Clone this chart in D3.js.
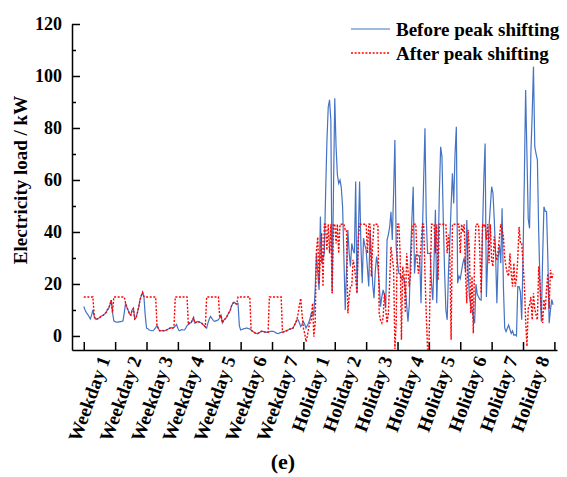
<!DOCTYPE html>
<html lang="en">
<head>
  <meta charset="UTF-8" />
  <title>Electricity load before and after peak shifting</title>
  <script src="https://d3js.org/d3.v7.min.js"></script>
  <style>
    body { margin: 0; background: #fff; }
    svg { display: block; }
    text { font-family: 'Liberation Serif', 'Times New Roman', serif; font-weight: bold; fill: #000; }
  </style>
</head>
<body>
<svg width="567" height="477"></svg>
<script>
  const days = ["Weekday 1", "Weekday 2", "Weekday 3", "Weekday 4", "Weekday 5", "Weekday 6", "Weekday 7",
                "Holiday 1", "Holiday 2", "Holiday 3", "Holiday 4", "Holiday 5", "Holiday 6", "Holiday 7", "Holiday 8"];
  const yTicks = [0, 20, 40, 60, 80, 100, 120];
  const yMinor = [10, 30, 50, 70, 90, 110];
  const hoursPerDay = 24;

  // hourly load, one row per day
  const before = [
    11.3, 10, 9, 8.3, 7.5, 6.5, 8, 10, 7.5, 6.5, 6.5, 6.7, 7, 7.5, 7.8, 8, 8.5, 9, 10, 10.6, 12, 13.8, 9, 5.8,
    5.5, 5.3, 5.3, 5.4, 5.5, 5.6, 5.8, 9, 12.6, 11, 9.8, 8.5, 8, 10, 10.6, 6.5, 7, 8.9, 11, 13.8, 15.5, 16.8, 15.2, 8,
    3, 2.8, 2.3, 2.2, 2, 2, 2.5, 3.2, 4, 3, 2, 2, 2.1, 2, 2, 2.2, 2.5, 2.8, 3, 3.2, 3, 3.3, 3.8, 4.4,
    3, 2, 2.2, 2.5, 2.3, 2.3, 3, 4, 4.4, 5, 5, 6, 7, 5, 5.3, 5.6, 5.4, 5.2, 5, 4.5, 4, 3.5, 3, 5,
    6.5, 7.5, 6.8, 6, 5.6, 5.8, 6, 6.2, 7, 8, 5, 6, 6.5, 7, 8, 9, 9.8, 11.5, 12.5, 13, 12.5, 12.3, 12.5, 4,
    2.3, 2.5, 2.7, 2.8, 3, 3, 2.8, 2.7, 2.3, 1.8, 1.5, 1.2, 1, 0.9, 1.2, 1.5, 1.8, 1.8, 1.6, 1.5, 1.4, 1.4, 1.6, 1.8,
    1.8, 1.8, 1.5, 1.2, 1, 0.9, 1.2, 1.4, 1.5, 1.6, 1.8, 2, 2.2, 2.5, 2.7, 2.8, 3, 4, 5, 6.2, 6.2, 5, 3.6, 4.5,
    5.5, 4.5, 3, 4, 5, 6.5, 8.7, 8.5, 8.3, 18, 31.8, 24, 17.7, 45.9, 28, 30, 31.8, 55, 75, 88, 90.8, 83, 16.4, 55,
    91.4, 72.8, 62, 58.7, 60, 57, 49.7, 30, 10, 25, 40.8, 32, 26.7, 35.6, 33, 31.8, 59.4, 16.4, 38, 59.4, 35, 20.3, 37.6, 35,
    33, 26, 19, 40.8, 30, 20, 14.5, 25, 30.5, 27, 20, 11.3, 15, 17.7, 16, 11.3, 36.9, 39, 42, 47.8, 36.9, 55, 75.4, 34.3,
    28, 24.1, 24, 22, 23, 22, 18, 12, 5.5, 12, 31.8, 45, 57.4, 24, 31.2, 31, 31, 30, 12.6, 38, 60, 79.9, 45, 31.8,
    31.8, 31.8, 20, 13.8, 30, 48.5, 12.6, 30, 55, 72.8, 69, 45, 25, 10, 6.2, 25, 36, 50, 62.6, 51, 70, 80.5, 20.3, 23,
    22, 25, 28, 30, 25, 44.6, 25, 15.1, 12, 10, 7, 4.9, 20, 16, 15, 14, 13.8, 40, 60, 74, 15, 30, 42, 49.7,
    57.4, 55, 45, 31.8, 12.6, 30, 35, 28, 49.1, 19, 3, 1.7, 3, 4.2, 2.5, 1, 2, 0.3, 0.5, 0, 19, 19, 17, 6.2,
    30, 60, 94.6, 70, 45, 41.4, 70, 85, 103.6, 72.8, 70, 67.7, 40, 20, 5.5, 30, 49.7, 48, 47.8, 30, 4.9, 10, 14, 12
  ];

  const after = [
    15, 15, 15, 15, 15, 15, 15, 15, 7.5, 6.5, 6.5, 6.7, 7, 7.5, 7.8, 8, 8.5, 9, 10, 10.6, 12, 13.8, 9, 15,
    15, 15, 15, 15, 15, 15, 15, 15, 12.6, 11, 9.8, 8.5, 8, 10, 10.6, 6.5, 7, 8.9, 11, 13.8, 15.5, 16.8, 15.2, 15,
    15, 15, 15, 15, 15, 15, 15, 15, 4, 3, 2, 2, 2.1, 2, 2, 2.2, 2.5, 2.8, 3, 3.2, 3, 3.3, 15, 15,
    15, 15, 15, 15, 15, 15, 15, 15, 4.4, 5, 5, 6, 7, 5, 5.3, 5.6, 5.4, 5.2, 5, 4.5, 4, 3.5, 15, 15,
    15, 15, 15, 15, 15, 15, 15, 15, 7, 8, 5, 6, 6.5, 7, 8, 9, 9.8, 11.5, 12.5, 13, 12.5, 12.3, 15, 15,
    15, 15, 15, 15, 15, 15, 15, 15, 2.3, 1.8, 1.5, 1.2, 1, 0.9, 1.2, 1.5, 1.8, 1.8, 1.6, 1.5, 1.4, 1.4, 15, 15,
    15, 15, 15, 15, 15, 15, 15, 15, 1.5, 1.6, 1.8, 2, 2.2, 2.5, 2.7, 2.8, 3, 4, 5, 6.2, 8.7, 12, 14.5, 8,
    3, 1, -2.2, 0, 3, 5, 6.2, 12.6, -0.3, 5, 33, 38, 20, 30, 39.5, 19, 43, 43, 33, 43, 31.8, 43, 16.4, 43,
    43, 35.6, 43, 31.8, 43, 43, 43, 43, 40.8, 40.8, 8.7, 15, 19, 19, 29.3, 27, 22, 16.4, 37, 43, 43, 43, 43, 43,
    43, 31.8, 43, 43, 22.8, 35, 43, 43, 43, 43, 8.7, 6, 5, 7, 16.4, 10, 5, 8.7, 21, 34.3, 30, 26, -5, 5,
    43, 43, 31.8, -1.5, 26.7, 24, 9, 31.8, 25, 19, 24, 38, 43, 43, 43, 29, 24, 29, 35, 43, 43, 24, 8, -5,
    -5, 20, 43, 43, 43, 31.8, 43, 21.5, 43, 43, 43, 43, 43, 43, 31.8, 39, 31.8, -1.5, 43, 43, 43, 43, 43, 43,
    31.8, 43, 40, 43, 24, 12.6, 40.8, 33, 8.7, 22.8, 1, 31.8, 43, 43, 43, 31.8, 16.4, 43, 42, 43, 37, 43, 28, 43,
    29, 26.7, 38.2, 31.8, 29, 33, 38, 43, 40.8, 38.2, 30, 26.7, 24.1, 23, 31.8, 24, 19, 28, 19, 22, 30, 42, 36, 36,
    28, 20, 6.2, -4, 10.5, 12, 15, 6.2, 16.4, 10.5, 8, 6.2, 26.7, 20, 10, 5, 14, 10, 18, 24, 10.5, 25.4, 22, 24
  ];

  const svg = d3.select("svg");
  const totalHours = days.length * hoursPerDay;

  const x = d3.scaleLinear().domain([-9, totalHours + 2]).range([72, 557]);
  const y = d3.scaleLinear().domain([-5.4, 120]).range([350, 24]);

  const line = d3.line()
    .x((d, i) => x(i))
    .y(d => y(d));

  // x axis: ticks at day boundaries, pointing inward
  const xAxis = svg.append("g")
    .attr("transform", `translate(0,${y.range()[0]})`)
    .call(d3.axisBottom(x)
      .tickValues(d3.range(0, totalHours + 1, hoursPerDay))
      .tickSizeInner(-8).tickSizeOuter(0).tickFormat(""));

  // y axis with major and minor ticks
  const yAxis = svg.append("g")
    .attr("transform", `translate(${x.range()[0]},0)`)
    .call(d3.axisLeft(y).tickValues(yTicks).tickSizeInner(-8).tickSizeOuter(0).tickPadding(10));
  const yAxisMinor = svg.append("g")
    .attr("transform", `translate(${x.range()[0]},0)`)
    .call(d3.axisLeft(y).tickValues(yMinor).tickSizeInner(-4).tickSizeOuter(0).tickFormat(""));
  yAxisMinor.select(".domain").remove();

  [xAxis, yAxis, yAxisMinor].forEach(g => {
    g.selectAll("path, line").attr("stroke", "#000").attr("stroke-width", 1.5);
  });
  yAxis.selectAll("text")
    .attr("font-size", 18)
    .attr("font-family", "'Liberation Serif', 'Times New Roman', serif")
    .attr("font-weight", "bold");

  // day labels, rotated
  svg.append("g").selectAll("text")
    .data(days)
    .enter().append("text")
    .attr("transform", (d, i) => `translate(${x(i * hoursPerDay + 12) + 11},359) rotate(-70)`)
    .attr("text-anchor", "end")
    .attr("font-size", 19)
    .text(d => d);

  svg.append("text")
    .attr("transform", "translate(27,180) rotate(-90)")
    .attr("text-anchor", "middle")
    .attr("font-size", 19)
    .text("Electricity load / kW");

  // series
  svg.append("path")
    .datum(before)
    .attr("fill", "none")
    .attr("stroke", "#4472c4")
    .attr("stroke-width", 1.2)
    .attr("d", line);

  svg.append("path")
    .datum(after)
    .attr("fill", "none")
    .attr("stroke", "#ff0000")
    .attr("stroke-width", 1.4)
    .attr("stroke-dasharray", "2,1.6")
    .attr("d", line);

  // legend
  const legend = svg.append("g");
  legend.append("line").attr("x1", 351).attr("x2", 390).attr("y1", 29).attr("y2", 29)
    .attr("stroke", "#4472c4").attr("stroke-width", 1.2);
  legend.append("text").attr("x", 396).attr("y", 36).attr("font-size", 19).text("Before peak shifting");
  legend.append("line").attr("x1", 351).attr("x2", 390).attr("y1", 53).attr("y2", 53)
    .attr("stroke", "#ff0000").attr("stroke-width", 1.4).attr("stroke-dasharray", "2,1.6");
  legend.append("text").attr("x", 396).attr("y", 60).attr("font-size", 19).text("After peak shifting");

  svg.append("text")
    .attr("x", 283).attr("y", 469)
    .attr("text-anchor", "middle")
    .attr("font-size", 22)
    .attr("font-family", "'DejaVu Serif', serif")
    .text("(e)");
</script>
</body>
</html>
